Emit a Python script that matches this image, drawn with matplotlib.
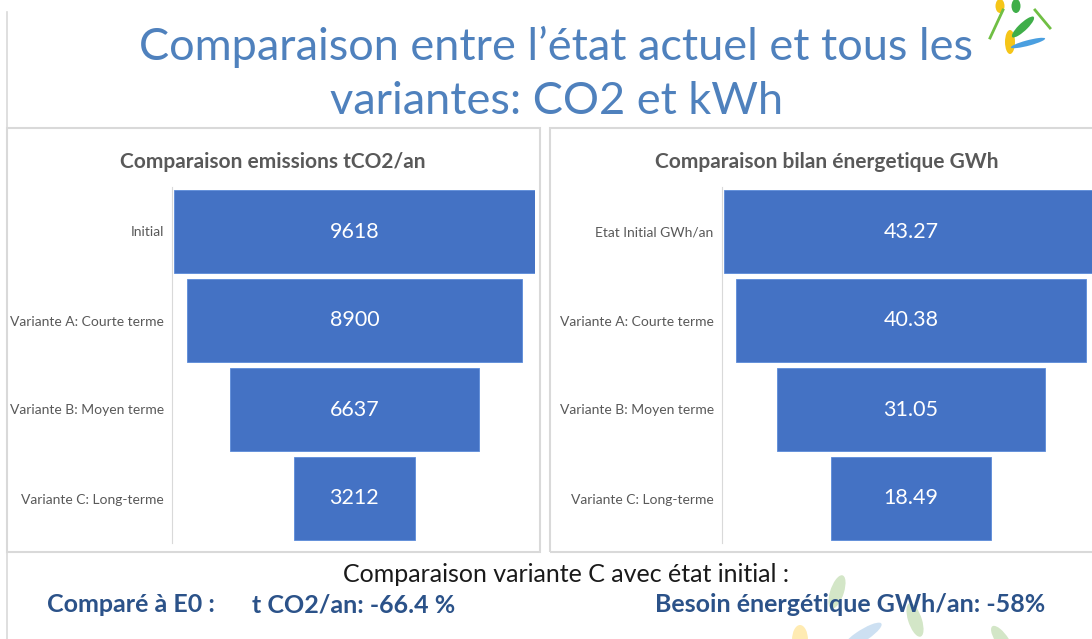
import matplotlib.pyplot as plt
from matplotlib import font_manager
from matplotlib.patches import Rectangle, Ellipse
from matplotlib.lines import Line2D

# pick a narrow-ish sans if one is around, else Lato
available = {f.name for f in font_manager.fontManager.ttflist}
FONT = "Lato"
for name in ["Liberation Sans Narrow", "Lato", "Open Sans"]:
    if name in available:
        FONT = name
        break
plt.rcParams["font.family"] = [FONT, "DejaVu Sans"]

co2_labels = ["Initial", "Variante A: Courte terme",
              "Variante B: Moyen terme", "Variante C: Long-terme"]
co2_values = [9618, 8900, 6637, 3212]
co2_text = ["9618", "8900", "6637", "3212"]

gwh_labels = ["Etat Initial GWh/an", "Variante A: Courte terme",
              "Variante B: Moyen terme", "Variante C: Long-terme"]
gwh_values = [43.27, 40.38, 31.05, 18.49]
gwh_text = ["43.27", "40.38", "31.05", "18.49"]

BAR_COLOR = "#4472C4"
GREY = "#595959"
BORDER = "#D9D9D9"
W, H = 1092, 639


def fx(px):
    return px / W


def fy(py):
    return 1 - py / H


def funnel(ax, labels, values, texts):
    top = max(values)
    lefts = [(top - v) / 2 for v in values]
    ax.barh(range(len(values)), values, left=lefts, height=0.93,
            color=BAR_COLOR, edgecolor="#5B8BD9", linewidth=0.6)
    for i, (v, l, t) in enumerate(zip(values, lefts, texts)):
        ax.text(l + v / 2, i, t, ha="center", va="center",
                color="white", fontsize=15.5)
    ax.set_yticks(range(len(labels)))
    ax.set_yticklabels(labels, fontsize=10, color=GREY)
    ax.tick_params(axis="y", length=0, pad=6)
    ax.set_xticks([])
    ax.set_xlim(-0.005 * top, top)
    ax.set_ylim(3.5, -0.5)
    for side in ["top", "right", "bottom"]:
        ax.spines[side].set_visible(False)
    ax.spines["left"].set_color(BORDER)
    ax.patch.set_alpha(0)


fig = plt.figure(figsize=(W / 100, H / 100), dpi=100)

# slide edge + the two panel frames
fig.add_artist(Line2D([fx(7), fx(7)], [fy(12), fy(639)], color=BORDER, lw=1.2))
fig.add_artist(Rectangle((fx(7), fy(552)), fx(540 - 7), (552 - 128) / H,
                         transform=fig.transFigure, fill=False,
                         edgecolor=BORDER, lw=1.5))
fig.add_artist(Rectangle((fx(550), fy(552)), fx(560), (552 - 128) / H,
                         transform=fig.transFigure, fill=False,
                         edgecolor=BORDER, lw=1.5))

# faint leaf watermark at the bottom
for (x, y, w, h, a, c) in [(837, 592, 14, 34, -10, "#70AD47"),
                           (915, 620, 14, 34, 10, "#70AD47"),
                           (800, 640, 16, 30, 0, "#FFC000"),
                           (862, 636, 16, 34, -40, "#5B9BD5"),
                           (1002, 640, 14, 30, 20, "#70AD47")]:
    fig.add_artist(Ellipse((fx(x), fy(y)), w / W, h / H, angle=a,
                           transform=fig.transFigure, color=c, alpha=0.3,
                           lw=0))

ax1 = fig.add_axes([fx(172), fy(543), fx(535 - 172), 356 / H])
funnel(ax1, co2_labels, co2_values, co2_text)

ax2 = fig.add_axes([fx(722), fy(543), fx(1098 - 722), 356 / H])
funnel(ax2, gwh_labels, gwh_values, gwh_text)

fig.text(fx(556), fy(47), "Comparaison entre l\u2019état actuel et tous les",
         ha="center", va="center", fontsize=32.5, color="#4F81BD")
fig.text(fx(557), fy(102), "variantes: CO2 et kWh",
         ha="center", va="center", fontsize=32.5, color="#4F81BD")

fig.text(fx(273), fy(162), "Comparaison emissions tCO2/an",
         ha="center", va="center", fontsize=15, fontweight="bold", color=GREY)
fig.text(fx(827), fy(162), "Comparaison bilan énergetique GWh",
         ha="center", va="center", fontsize=15, fontweight="bold", color=GREY)

fig.text(fx(566), fy(575), "Comparaison variante C avec état initial :",
         ha="center", va="center", fontsize=18, color="#1A1A1A")
fig.text(fx(47), fy(605), "Comparé à E0 :", ha="left", va="center",
         fontsize=18, fontweight="bold", color="#2B5289")
fig.text(fx(252), fy(605), "t CO2/an: -66.4 %", ha="left", va="center",
         fontsize=18, fontweight="bold", color="#2B5289")
fig.text(fx(655), fy(605), "Besoin énergétique GWh/an: -58%", ha="left",
         va="center", fontsize=18, fontweight="bold", color="#2B5289")

# little logo top right
fig.add_artist(Line2D([fx(990), fx(1003)], [fy(38), fy(10)], color="#70BF44", lw=2))
fig.add_artist(Line2D([fx(1035), fx(1050)], [fy(10), fy(28)], color="#70BF44", lw=2))
for (x, y, w, h, a, c) in [(1010, 42, 10, 24, 0, "#F5C518"),
                           (1023, 27, 10, 24, -30, "#3FAE49"),
                           (1028, 43, 9, 22, -65, "#4A9FE0"),
                           (1000, 6, 9, 14, 0, "#F5C518"),
                           (1016, 6, 9, 14, 0, "#3FAE49")]:
    fig.add_artist(Ellipse((fx(x), fy(y)), w / W, h / H, angle=a,
                           transform=fig.transFigure, color=c, lw=0))

fig.savefig("out.png", dpi=100)
